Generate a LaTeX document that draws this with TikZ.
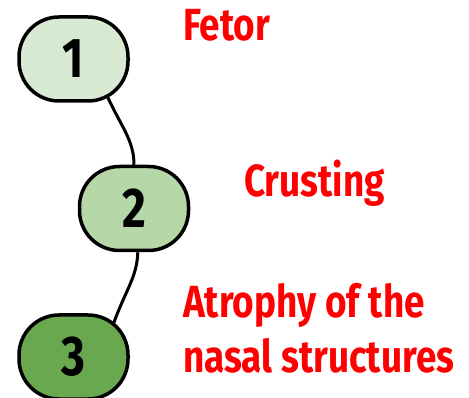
\documentclass[tikz,border=0pt]{standalone}
\usepackage{fontspec}
\setmainfont{Fira Sans}[FakeStretch=0.82]
\usetikzlibrary{backgrounds}

\definecolor{paleA}{HTML}{D9EAD3}
\definecolor{paleB}{HTML}{B6D7A8}
\definecolor{paleC}{HTML}{6AA84F}

\begin{document}
\begin{tikzpicture}[
  x=1pt, y=1pt,
  stage/.style={draw, line width=3.5pt, rounded corners=40pt, minimum width=109pt, minimum height=84pt, inner sep=0pt, font=\fontsize{56}{56}\selectfont\bfseries},
  sign/.style={text=red, align=left, anchor=base west, inner sep=0pt, font=\fontsize{45}{55}\selectfont\bfseries},
  link/.style={line width=3pt}
]
\useasboundingbox (0,0) rectangle (469,-398);

\node[stage, fill=paleA] (s1) at (73.5,-59) {1};
\node[stage, fill=paleB] (s2) at (134,-208.5) {2};
\node[stage, fill=paleC] (s3) at (73.5,-357) {3};

\node[sign] (fetor) at (183,-41) {Fetor};
\node[sign] (crust) at (244,-197) {Crusting};
\node[sign] (atrophy) at (183,-373) {Atrophy of the\\nasal structures};

\begin{scope}[on background layer]
\draw[link, shorten <=-8pt] (s1.-50) .. controls +(-66:25) and +(90:25) .. (s2.north);
\draw[link, shorten >=-10pt] (s2.-85) .. controls +(-92:25) and +(70:25) .. (s3.45);
\end{scope}
\end{tikzpicture}
\end{document}
